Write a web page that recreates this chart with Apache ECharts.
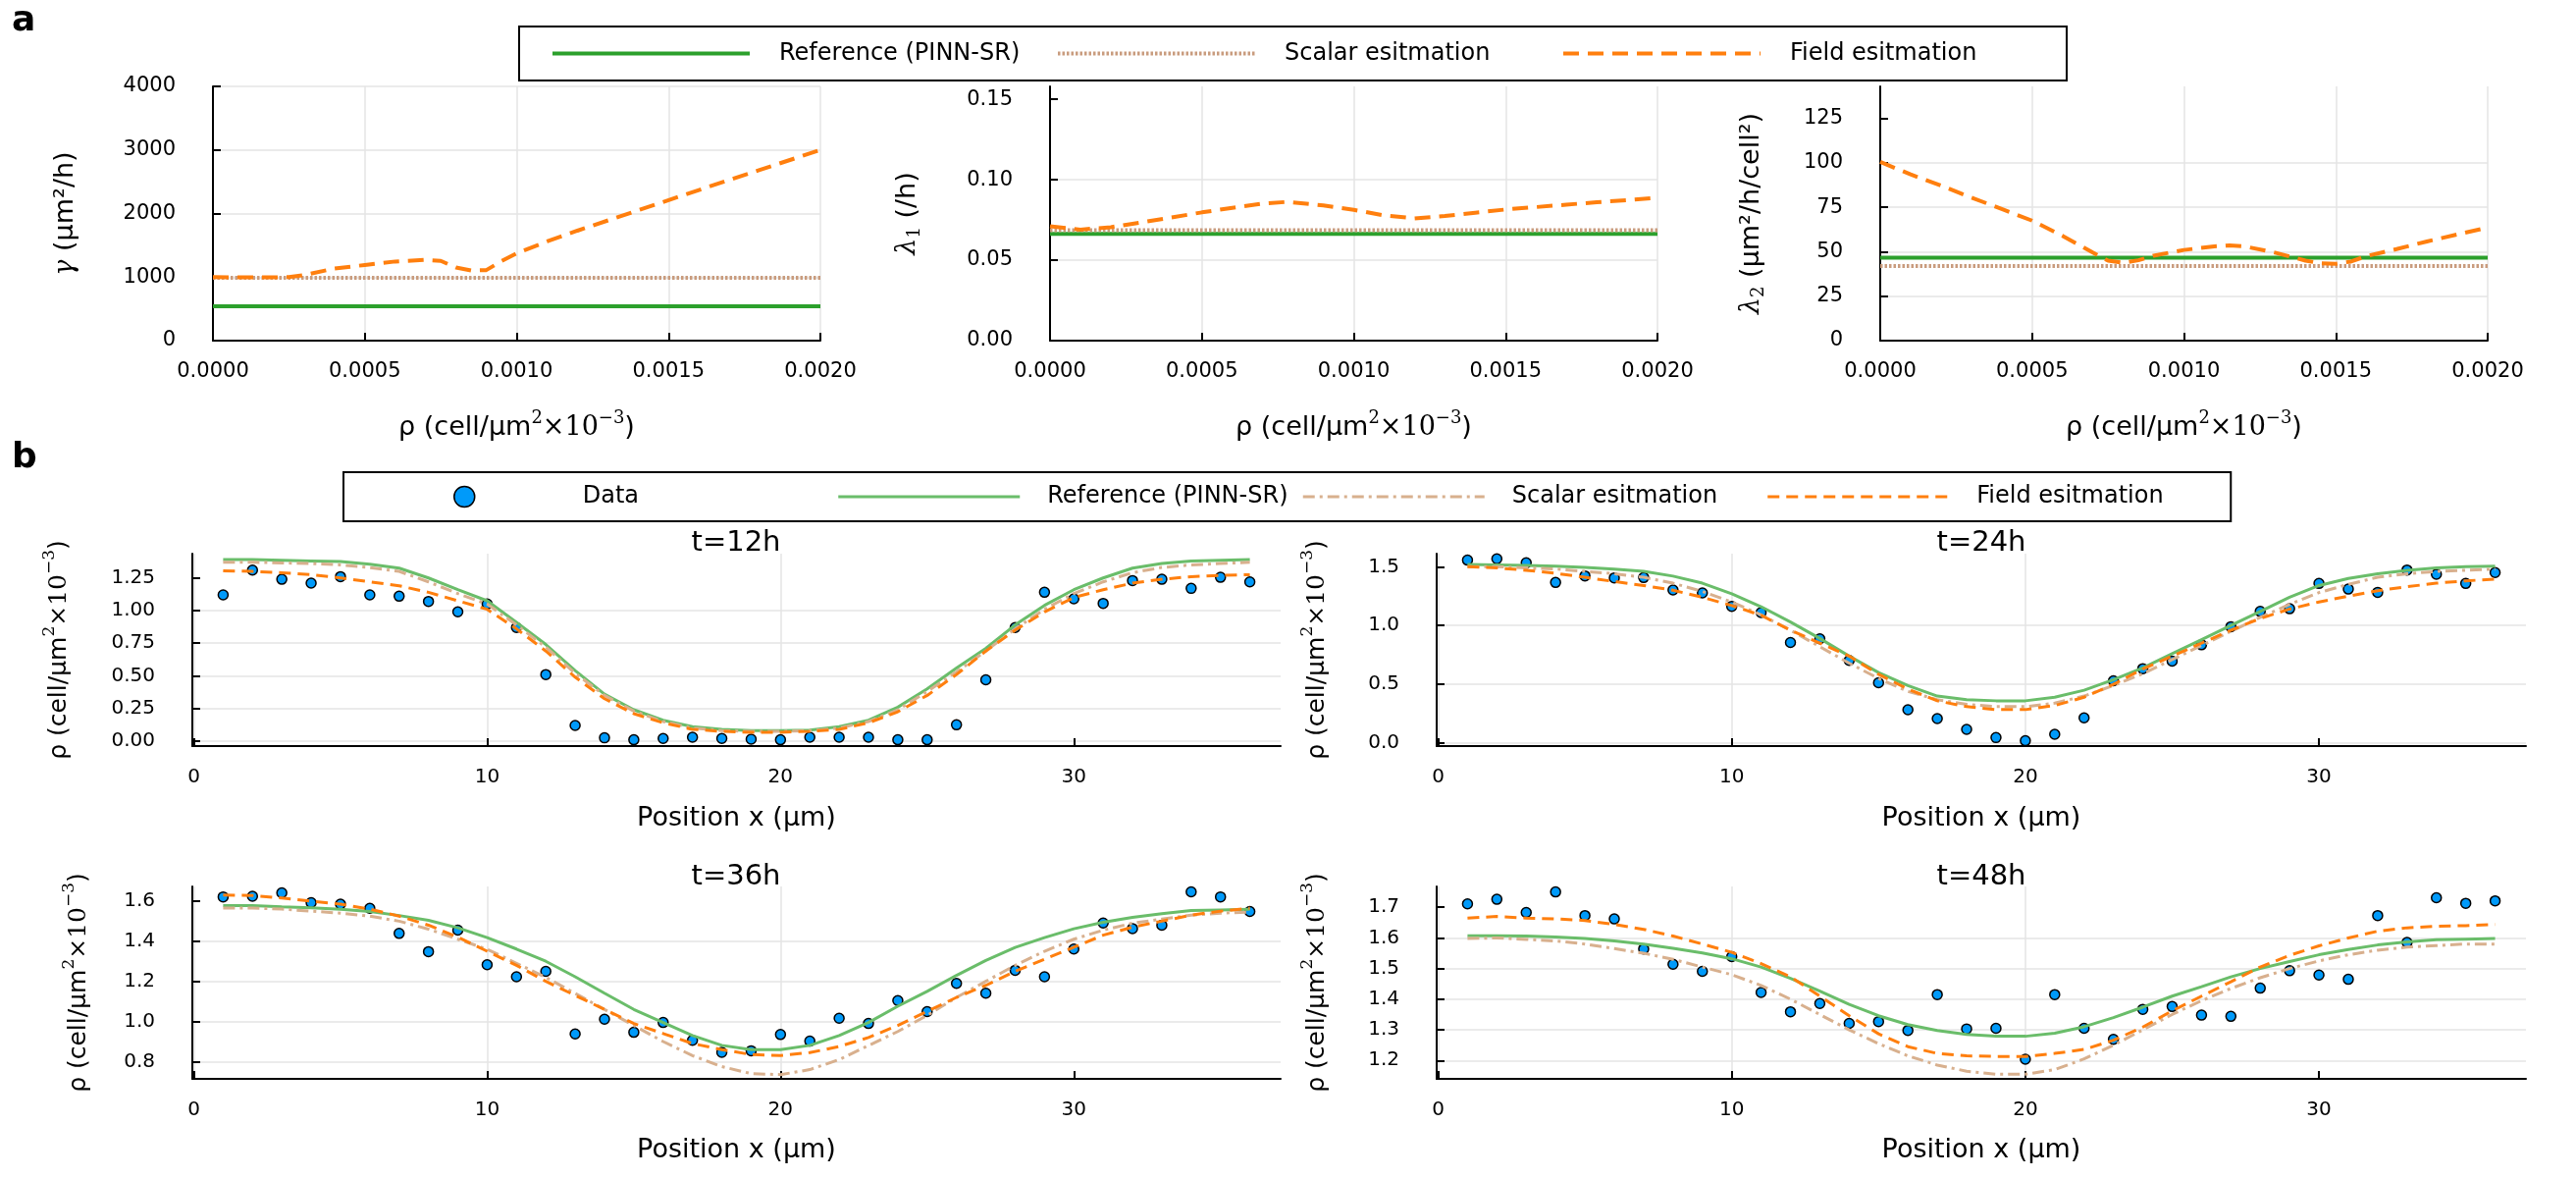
<!DOCTYPE html>
<html>
<head>
<meta charset="utf-8">
<script src="https://cdn.jsdelivr.net/npm/echarts@6/dist/echarts.min.js"></script>
<style>
  html, body { margin: 0; padding: 0; background: #fff; }
  #chart { width: 2625px; height: 1200px; }
</style>
</head>
<body>
<div id="chart"></div>
<script>
// ---- panel a: parameters as functions of density ----
const rhoTicks = [0, 0.0005, 0.001, 0.0015, 0.002];
const rhoRange = [0, 0.002];

const gammaRho = [0, 0.0001, 0.0002, 0.00025, 0.0003, 0.0004, 0.0005, 0.0006, 0.0007, 0.00075, 0.0008, 0.00085, 0.0009, 0.00095, 0.001, 0.0011, 0.0012, 0.0014, 0.0016, 0.0018, 0.002];
const gammaField = [1000, 995, 995, 1000, 1030, 1135, 1190, 1245, 1270, 1255, 1150, 1105, 1110, 1250, 1375, 1560, 1730, 2050, 2370, 2685, 3000];
const gammaRef = 540;
const gammaScalar = 990;
const gammaTicks = [0, 1000, 2000, 3000, 4000];

const lam1Rho = [0, 0.0001, 0.0002, 0.0003, 0.0004, 0.0005, 0.0006, 0.0007, 0.00078, 0.0009, 0.001, 0.0011, 0.0012, 0.0013, 0.0014, 0.0015, 0.0016, 0.0017, 0.0018, 0.0019, 0.002];
const lam1Field = [0.0711, 0.0690, 0.0705, 0.0735, 0.0765, 0.0797, 0.0825, 0.0852, 0.0862, 0.0840, 0.0813, 0.0778, 0.0760, 0.0775, 0.0795, 0.0815, 0.0830, 0.0845, 0.0860, 0.0873, 0.0888];
const lam1Ref = 0.0663;
const lam1Scalar = 0.0687;
const lam1Ticks = [0, 0.05, 0.1, 0.15];

const lam2Rho = [0, 0.0001, 0.0002, 0.0003, 0.0004, 0.0005, 0.0006, 0.0007, 0.00075, 0.0008, 0.00085, 0.0009, 0.001, 0.0011, 0.00115, 0.0012, 0.0013, 0.0014, 0.00145, 0.0015, 0.00155, 0.0016, 0.0017, 0.0018, 0.0019, 0.002];
const lam2Field = [100.5, 93.5, 87.2, 80.5, 74, 67.5, 59, 49.5, 45, 43.8, 45.2, 47.8, 51, 53, 53.5, 53, 49.5, 45, 43.5, 43.2, 44.5, 47.5, 51.5, 55.8, 59.7, 63.6];
const lam2Ref = 46.6;
const lam2Scalar = 42.0;
const lam2Ticks = [0, 25, 50, 75, 100, 125];

// ---- panel b: density profiles ----
const positions = [1, 2, 3, 4, 5, 6, 7, 8, 9, 10, 11, 12, 13, 14, 15, 16, 17, 18, 19, 20, 21, 22, 23, 24, 25, 26, 27, 28, 29, 30, 31, 32, 33, 34, 35, 36];
const posTicks = [0, 10, 20, 30];

const data12 = [1.12, 1.31, 1.24, 1.21, 1.26, 1.12, 1.11, 1.07, 0.99, 1.05, 0.87, 0.51, 0.12, 0.025, 0.01, 0.02, 0.03, 0.02, 0.015, 0.01, 0.03, 0.03, 0.03, 0.01, 0.01, 0.125, 0.47, 0.87, 1.14, 1.09, 1.055, 1.23, 1.24, 1.17, 1.255, 1.22];
const ref12 = [1.39, 1.39, 1.385, 1.38, 1.375, 1.355, 1.325, 1.25, 1.16, 1.075, 0.91, 0.74, 0.54, 0.36, 0.24, 0.16, 0.11, 0.09, 0.08, 0.08, 0.085, 0.11, 0.16, 0.26, 0.40, 0.56, 0.71, 0.89, 1.04, 1.16, 1.25, 1.325, 1.36, 1.38, 1.385, 1.39];
const scalar12 = [1.37, 1.37, 1.365, 1.36, 1.35, 1.33, 1.30, 1.22, 1.13, 1.05, 0.89, 0.72, 0.52, 0.35, 0.23, 0.15, 0.10, 0.08, 0.075, 0.075, 0.08, 0.10, 0.15, 0.24, 0.38, 0.53, 0.69, 0.86, 1.01, 1.13, 1.22, 1.29, 1.33, 1.35, 1.36, 1.37];
const field12 = [1.305, 1.30, 1.29, 1.275, 1.25, 1.22, 1.19, 1.14, 1.075, 1.01, 0.86, 0.69, 0.49, 0.325, 0.21, 0.14, 0.09, 0.075, 0.068, 0.068, 0.075, 0.09, 0.14, 0.225, 0.35, 0.51, 0.69, 0.85, 0.99, 1.10, 1.16, 1.21, 1.24, 1.26, 1.27, 1.275];

const data24 = [1.556, 1.567, 1.533, 1.366, 1.422, 1.405, 1.408, 1.302, 1.277, 1.163, 1.11, 0.856, 0.887, 0.703, 0.513, 0.284, 0.209, 0.117, 0.047, 0.02, 0.075, 0.215, 0.53, 0.633, 0.697, 0.836, 0.99, 1.12, 1.143, 1.358, 1.31, 1.282, 1.472, 1.436, 1.358, 1.45];
const ref24 = [1.52, 1.515, 1.51, 1.505, 1.495, 1.48, 1.46, 1.42, 1.36, 1.27, 1.16, 1.03, 0.89, 0.74, 0.60, 0.49, 0.40, 0.37, 0.36, 0.36, 0.39, 0.45, 0.54, 0.64, 0.76, 0.88, 1.00, 1.12, 1.24, 1.34, 1.40, 1.44, 1.47, 1.49, 1.50, 1.505];
const scalar24 = [1.50, 1.50, 1.49, 1.48, 1.46, 1.44, 1.41, 1.36, 1.29, 1.20, 1.09, 0.96, 0.82, 0.68, 0.55, 0.44, 0.37, 0.33, 0.31, 0.31, 0.34, 0.40, 0.49, 0.59, 0.71, 0.83, 0.95, 1.07, 1.18, 1.28, 1.35, 1.41, 1.44, 1.46, 1.47, 1.48];
const field24 = [1.50, 1.49, 1.47, 1.444, 1.41, 1.374, 1.34, 1.30, 1.24, 1.17, 1.087, 0.96, 0.85, 0.74, 0.585, 0.46, 0.36, 0.31, 0.285, 0.285, 0.32, 0.39, 0.50, 0.63, 0.74, 0.85, 0.96, 1.06, 1.14, 1.20, 1.25, 1.296, 1.33, 1.36, 1.38, 1.394];

const data36 = [1.621, 1.624, 1.641, 1.592, 1.585, 1.564, 1.439, 1.348, 1.455, 1.283, 1.223, 1.25, 0.938, 1.011, 0.946, 0.995, 0.906, 0.846, 0.854, 0.935, 0.902, 1.016, 0.99, 1.104, 1.049, 1.19, 1.141, 1.255, 1.223, 1.361, 1.491, 1.463, 1.48, 1.646, 1.621, 1.548];
const ref36 = [1.577, 1.578, 1.571, 1.567, 1.559, 1.548, 1.528, 1.504, 1.467, 1.418, 1.361, 1.30, 1.223, 1.141, 1.06, 0.995, 0.93, 0.881, 0.86, 0.86, 0.881, 0.93, 0.995, 1.076, 1.15, 1.23, 1.304, 1.369, 1.418, 1.462, 1.494, 1.519, 1.537, 1.553, 1.556, 1.559];
const scalar36 = [1.565, 1.565, 1.56, 1.55, 1.54, 1.525, 1.50, 1.46, 1.41, 1.36, 1.29, 1.22, 1.14, 1.06, 0.98, 0.90, 0.83, 0.775, 0.74, 0.735, 0.76, 0.81, 0.88, 0.95, 1.03, 1.12, 1.20, 1.28, 1.35, 1.41, 1.455, 1.49, 1.51, 1.53, 1.54, 1.545];
const field36 = [1.63, 1.628, 1.615, 1.60, 1.585, 1.56, 1.525, 1.48, 1.42, 1.35, 1.28, 1.20, 1.13, 1.06, 0.99, 0.94, 0.89, 0.86, 0.835, 0.83, 0.845, 0.875, 0.92, 0.98, 1.05, 1.12, 1.18, 1.25, 1.31, 1.37, 1.43, 1.47, 1.50, 1.53, 1.55, 1.565];

const data48 = [1.711, 1.726, 1.683, 1.75, 1.673, 1.662, 1.564, 1.514, 1.491, 1.539, 1.422, 1.359, 1.386, 1.321, 1.327, 1.298, 1.415, 1.303, 1.305, 1.204, 1.415, 1.305, 1.269, 1.367, 1.376, 1.348, 1.344, 1.436, 1.493, 1.479, 1.465, 1.673, 1.585, 1.731, 1.713, 1.721];
const ref48 = [1.607, 1.607, 1.606, 1.603, 1.598, 1.59, 1.58, 1.566, 1.551, 1.532, 1.505, 1.468, 1.426, 1.383, 1.346, 1.317, 1.298, 1.285, 1.279, 1.279, 1.289, 1.31, 1.34, 1.374, 1.41, 1.441, 1.473, 1.50, 1.523, 1.545, 1.562, 1.577, 1.587, 1.594, 1.596, 1.598];
const scalar48 = [1.598, 1.60, 1.595, 1.59, 1.58, 1.565, 1.55, 1.53, 1.505, 1.48, 1.445, 1.40, 1.35, 1.30, 1.255, 1.215, 1.185, 1.165, 1.155, 1.155, 1.17, 1.205, 1.25, 1.30, 1.35, 1.395, 1.435, 1.47, 1.50, 1.525, 1.545, 1.56, 1.57, 1.575, 1.58, 1.58];
const field48 = [1.665, 1.67, 1.665, 1.662, 1.657, 1.644, 1.628, 1.606, 1.58, 1.553, 1.516, 1.473, 1.41, 1.346, 1.287, 1.245, 1.223, 1.215, 1.213, 1.213, 1.223, 1.236, 1.266, 1.309, 1.362, 1.41, 1.457, 1.505, 1.543, 1.574, 1.60, 1.622, 1.633, 1.638, 1.64, 1.644];

const titlesB = ['t=12h', 't=24h', 't=36h', 't=48h'];
const yTicksB = [
  [0, 0.25, 0.5, 0.75, 1.0, 1.25],
  [0, 0.5, 1.0, 1.5],
  [0.8, 1.0, 1.2, 1.4, 1.6],
  [1.2, 1.3, 1.4, 1.5, 1.6, 1.7],
];

const SANS = 'DejaVu Sans';
const SERIF = 'DejaVu Serif';
const GREEN = '#2CA02C';
const GREEN_B = '#6ABD6A';
const ORANGE = '#FF7F0E';
const TAN_A = '#C99C7E';
const TAN_B = '#D8B08E';
const BLUE = '#009AFA';

const pair = (xs, ys) => xs.map((x, i) => [x, ys[i]]);
const flat = (v) => [[rhoRange[0], v], [rhoRange[1], v]];

const rhoRich = (size) => ({
  t: { fontSize: size, fontFamily: SANS, color: '#000' },
  m: { fontSize: size, fontFamily: SERIF, color: '#000' },
  sup: { fontSize: Math.round(size * 0.66), fontFamily: SERIF, color: '#000', padding: [0, 0, Math.round(size * 0.75), 0] },
  g: { fontSize: size, fontFamily: SERIF, fontStyle: 'italic', color: '#000' },
  sub: { fontSize: Math.round(size * 0.66), fontFamily: SERIF, color: '#000', padding: [Math.round(size * 0.55), 0, 0, 0] },
});
const rhoName = '{t|ρ (cell/μm}{sup|2}{m|×10}{sup|−3}{t|)}';

function axisCommon(ticks, fmt, fontSize, margin) {
  return {
    axisLine: { show: true, onZero: false, lineStyle: { color: '#000', width: 2 } },
    axisTick: { show: true, inside: true, length: 8, customValues: ticks, lineStyle: { color: '#000', width: 2 } },
    axisLabel: { customValues: ticks, formatter: fmt, color: '#000', fontFamily: SANS, fontSize: fontSize, margin: margin },
    splitLine: { show: true, showMaxLine: false, lineStyle: { color: '#e4e4e4', width: 1.5 } },
  };
}

const grids = [
  { left: 217, top: 88, width: 619, height: 259 },
  { left: 1070, top: 88, width: 619, height: 259 },
  { left: 1916, top: 88, width: 619, height: 259 },
  { left: 196, top: 564, width: 1109, height: 196 },
  { left: 1464, top: 564, width: 1110, height: 196 },
  { left: 196, top: 903, width: 1109, height: 196 },
  { left: 1464, top: 903, width: 1110, height: 196 },
];

const xAxes = [];
const yAxes = [];
const series = [];

// top row
const topPanels = [
  { rho: gammaRho, field: gammaField, ref: gammaRef, scalar: gammaScalar, ticks: gammaTicks, max: 4000,
    fmt: (v) => String(v), name: '{g|γ} {t|(μm²/h)}', gap: 137 },
  { rho: lam1Rho, field: lam1Field, ref: lam1Ref, scalar: lam1Scalar, ticks: lam1Ticks, max: 0.158,
    fmt: (v) => v.toFixed(2), name: '{g|λ}{sub|1} {t|(/h)}', gap: 129 },
  { rho: lam2Rho, field: lam2Field, ref: lam2Ref, scalar: lam2Scalar, ticks: lam2Ticks, max: 143,
    fmt: (v) => String(v), name: '{g|λ}{sub|2} {t|(μm²/h/cell²)}', gap: 115 },
];

topPanels.forEach((p, i) => {
  const xa = axisCommon(rhoTicks, (v) => v.toFixed(4), 21, 21);
  xa.splitLine.showMaxLine = true;
  xAxes.push(Object.assign({
    type: 'value', gridIndex: i, min: rhoRange[0], max: rhoRange[1],
    name: rhoName, nameLocation: 'middle', nameGap: 70,
    nameTextStyle: { rich: rhoRich(27) },
  }, xa));
  const ya = axisCommon(p.ticks, p.fmt, 21, 38);
  if (i === 0) ya.splitLine.showMaxLine = true;
  yAxes.push(Object.assign({
    type: 'value', gridIndex: i, min: 0, max: p.max,
    name: p.name, nameLocation: 'middle', nameGap: p.gap, nameRotate: 90,
    nameTextStyle: { fontSize: 27, fontFamily: SANS, color: '#000', rich: rhoRich(27) },
  }, ya));
  series.push({
    name: 'Reference (PINN-SR)', type: 'line', xAxisIndex: i, yAxisIndex: i,
    data: flat(p.ref), symbol: 'none', lineStyle: { color: GREEN, width: 4 }, itemStyle: { color: GREEN },
  });
  series.push({
    name: 'Scalar esitmation', type: 'line', xAxisIndex: i, yAxisIndex: i,
    data: flat(p.scalar), symbol: 'none', lineStyle: { color: TAN_A, width: 4, type: [2.5, 2] }, itemStyle: { color: TAN_A },
  });
  series.push({
    name: 'Field esitmation', type: 'line', xAxisIndex: i, yAxisIndex: i,
    data: pair(p.rho, p.field), symbol: 'none', lineStyle: { color: ORANGE, width: 4, type: [16, 9] }, itemStyle: { color: ORANGE },
  });
});

// bottom panels
const bottomPanels = [
  { d: data12, r: ref12, s: scalar12, f: field12, min: -0.038, max: 1.436, fmt: (v) => v.toFixed(2), gap: 118, xgap: 60 },
  { d: data24, r: ref24, s: scalar24, f: field24, min: -0.025, max: 1.611, fmt: (v) => v.toFixed(1), gap: 104, xgap: 60 },
  { d: data36, r: ref36, s: scalar36, f: field36, min: 0.714, max: 1.673, fmt: (v) => v.toFixed(1), gap: 98, xgap: 59 },
  { d: data48, r: ref48, s: scalar48, f: field48, min: 1.14, max: 1.768, fmt: (v) => v.toFixed(1), gap: 104, xgap: 59 },
];

bottomPanels.forEach((p, k) => {
  const i = k + 3;
  xAxes.push(Object.assign({
    type: 'value', gridIndex: i, min: -0.05, max: 37.05,
    name: 'Position x (μm)', nameLocation: 'middle', nameGap: p.xgap,
    nameTextStyle: { fontSize: 27, fontFamily: SANS, color: '#000' },
  }, axisCommon(posTicks, (v) => String(v), 20, 22)));
  yAxes.push(Object.assign({
    type: 'value', gridIndex: i, min: p.min, max: p.max,
    name: rhoName, nameLocation: 'middle', nameGap: p.gap, nameRotate: 90,
    nameTextStyle: { rich: rhoRich(25) },
  }, axisCommon(yTicksB[k], p.fmt, 20, 38)));
  series.push({
    name: 'Data', type: 'scatter', xAxisIndex: i, yAxisIndex: i,
    data: pair(positions, p.d), symbol: 'circle', symbolSize: 10,
    itemStyle: { color: BLUE, borderColor: '#000', borderWidth: 1.5, opacity: 1 },
  });
  series.push({
    name: 'Reference (PINN-SR)', type: 'line', xAxisIndex: i, yAxisIndex: i,
    data: pair(positions, p.r), symbol: 'none', lineStyle: { color: GREEN_B, width: 3 }, itemStyle: { color: GREEN_B },
  });
  series.push({
    name: 'Scalar esitmation', type: 'line', xAxisIndex: i, yAxisIndex: i,
    data: pair(positions, p.s), symbol: 'none', lineStyle: { color: TAN_B, width: 3, type: [12, 5, 3, 5] }, itemStyle: { color: TAN_B },
  });
  series.push({
    name: 'Field esitmation', type: 'line', xAxisIndex: i, yAxisIndex: i,
    data: pair(positions, p.f), symbol: 'none', lineStyle: { color: ORANGE, width: 3, type: [12, 7] }, itemStyle: { color: ORANGE },
  });
});

const titleTops = [539, 539, 879, 879];
const titleLefts = [750, 2019, 750, 2019];
const titles = [
  { text: 'a', left: 12, top: 4, padding: 0, textStyle: { fontSize: 36, fontWeight: 'bold', fontFamily: SANS, color: '#000' } },
  { text: 'b', left: 12, top: 449, padding: 0, textStyle: { fontSize: 36, fontWeight: 'bold', fontFamily: SANS, color: '#000' } },
].concat(titlesB.map((t, k) => ({
  text: t, left: titleLefts[k], top: titleTops[k], textAlign: 'center', padding: 0,
  textStyle: { fontSize: 29, fontWeight: 'normal', fontFamily: SANS, color: '#000' },
})));

const lineItem = (name, color, width, type) => ({
  name: name, itemStyle: { color: color, opacity: 0 }, lineStyle: { color: color, width: width, type: type, opacity: 1 },
});

const option = {
  backgroundColor: '#fff',
  animation: false,
  title: titles,
  grid: grids,
  xAxis: xAxes,
  yAxis: yAxes,
  legend: [
    {
      left: 529, top: 27, orient: 'horizontal', itemGap: 0,
      padding: [12, 0, 12, 32], borderColor: '#000', borderWidth: 2,
      itemWidth: 201, itemHeight: 14, selectedMode: false,
      textStyle: { fontSize: 24, fontFamily: SANS, color: '#000', width: 282, padding: [0, 0, 0, 25], lineHeight: 31 },
      data: [
        lineItem('Reference (PINN-SR)', GREEN, 4, 'solid'),
        lineItem('Scalar esitmation', TAN_A, 4, [2.5, 2]),
        lineItem('Field esitmation', ORANGE, 4, [16, 9]),
      ],
    },
    {
      // content box starts at the circle's edge, so the left padding includes half the icon slot
      left: 350, top: 481, orient: 'horizontal', itemGap: 0,
      padding: [10.5, 0, 10.5, 112], borderColor: '#000', borderWidth: 2,
      itemWidth: 185, itemHeight: 21, selectedMode: false,
      textStyle: { fontSize: 24, fontFamily: SANS, color: '#000', width: 259, padding: [0, 0, 0, 23], lineHeight: 29 },
      data: [
        { name: 'Data', icon: 'circle', itemStyle: { color: BLUE, borderColor: '#000', borderWidth: 1.5 } },
        lineItem('Reference (PINN-SR)', GREEN_B, 3, 'solid'),
        lineItem('Scalar esitmation', TAN_B, 3, [12, 5, 3, 5]),
        lineItem('Field esitmation', ORANGE, 3, [12, 7]),
      ],
    },
  ],
  series: series,
};

const chart = echarts.init(document.getElementById('chart'));
chart.setOption(option);
</script>
</body>
</html>
